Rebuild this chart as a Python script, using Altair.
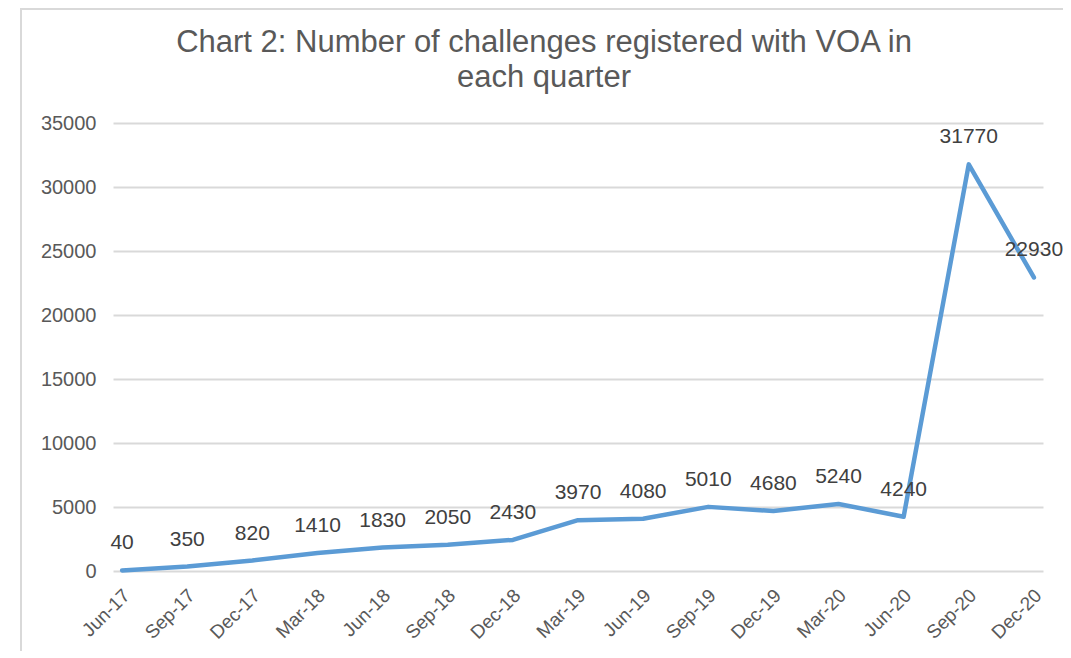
import altair as alt
import pandas as pd

quarters = ["Jun-17", "Sep-17", "Dec-17", "Mar-18", "Jun-18", "Sep-18", "Dec-18",
            "Mar-19", "Jun-19", "Sep-19", "Dec-19", "Mar-20", "Jun-20", "Sep-20", "Dec-20"]
challenges = [40, 350, 820, 1410, 1830, 2050, 2430, 3970, 4080, 5010, 4680, 5240, 4240, 31770, 22930]
y_ticks = [0, 5000, 10000, 15000, 20000, 25000, 30000, 35000]
title_lines = ["Chart 2: Number of challenges registered with VOA in", "each quarter"]

df = pd.DataFrame({"quarter": quarters, "value": challenges})
one = pd.DataFrame({"k": [0]})

FONT = "Liberation Sans"
TXT = "#595959"

x_enc = alt.X("quarter:N", sort=quarters,
              scale=alt.Scale(type="point", padding=0.14),
              axis=alt.Axis(title=None, labelAngle=-45, labelFontSize=19, labelColor=TXT,
                            labelFont=FONT, ticks=False, domain=False, labelPadding=21,
                            labelOffset=4, labelAlign="right", labelBaseline="middle",
                            grid=False))
y_enc = alt.Y("value:Q", scale=alt.Scale(domain=[0, 35000], nice=False),
              axis=alt.Axis(title=None, values=y_ticks, labelFontSize=20, labelColor=TXT,
                            labelFont=FONT, ticks=False, domain=False, labelPadding=17,
                            gridColor="#D9D9D9", gridWidth=2, format="d"))

line = alt.Chart(df).mark_line(color="#5B9BD5", strokeWidth=4.5, strokeCap="round",
                               strokeJoin="round").encode(x=x_enc, y=y_enc)

labels = alt.Chart(df).mark_text(dy=-27, fontSize=21, color="#404040", font=FONT,
                                 baseline="middle").encode(
    x=alt.X("quarter:N", sort=quarters), y="value:Q", text="value:Q")

frame_left = alt.Chart(one).mark_rule(color="#D9D9D9", strokeWidth=2).encode(
    x=alt.value(-92), y=alt.value(-115), y2=alt.value(540))
frame_top = alt.Chart(one).mark_rule(color="#D9D9D9", strokeWidth=2).encode(
    x=alt.value(-92), x2=alt.value(960), y=alt.value(-114))

title1 = alt.Chart(one).mark_text(fontSize=31, font=FONT, color=TXT, align="center",
                                  baseline="alphabetic").encode(
    x=alt.value(431), y=alt.value(-71), text=alt.value(title_lines[0]))
title2 = alt.Chart(one).mark_text(fontSize=31, font=FONT, color=TXT, align="center",
                                  baseline="alphabetic").encode(
    x=alt.value(431), y=alt.value(-36), text=alt.value(title_lines[1]))

chart = alt.layer(frame_left, frame_top, line, labels, title1, title2).properties(
    width=930, height=448,
    autosize=alt.AutoSizeParams(type="none"),
    padding={"left": 105, "top": 115, "right": 20, "bottom": 80},
).configure_view(stroke=None)

chart.save("out.html", embed_options={"renderer": "svg", "actions": False})
